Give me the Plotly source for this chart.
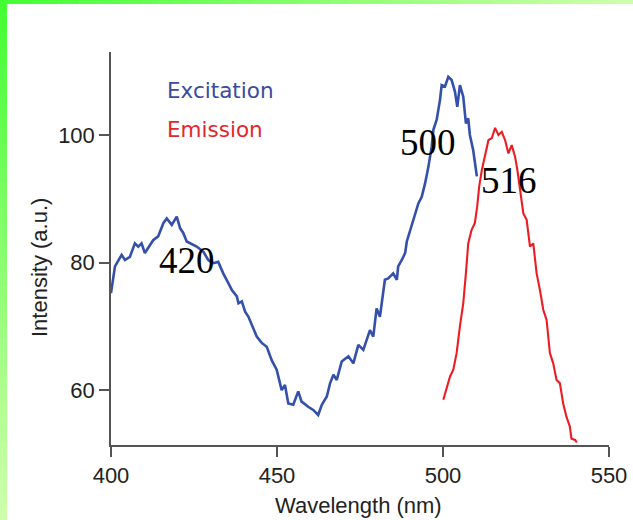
import plotly.graph_objects as go

# ---- data ----
exc_nm = [400.0, 401.2, 403.2, 404.2, 405.7, 407.2, 408.2, 409.2, 410.2, 411.7, 412.7, 414.2,
          415.8, 416.8, 418.3, 419.8, 420.8, 421.8, 422.8, 425.8, 427.8, 429.3, 430.8, 432.3,
          433.8, 435.3, 436.4, 437.9, 438.4, 439.4, 440.4, 441.4, 442.4, 443.9, 445.4, 446.9,
          448.4, 449.9, 451.4, 452.4, 453.4, 454.9, 456.4, 457.4, 459.4, 460.9, 462.4, 463.5,
          465.0, 466.0, 467.0, 468.0, 469.5, 471.5, 473.0, 474.5, 476.0, 478.0, 479.0, 480.0,
          481.0, 482.5, 483.5, 485.0, 486.1, 486.5, 487.6, 488.6, 489.1, 490.1, 490.6, 491.6,
          492.6, 493.6, 494.6, 495.6, 496.6, 497.1, 498.1, 499.1, 499.6, 500.6, 501.6, 502.6,
          503.6, 504.3, 505.1, 506.1, 506.9, 507.6, 508.1, 509.1, 510.2]
exc_int = [75.2, 79.4, 81.2, 80.4, 80.9, 83.0, 82.5, 83.0, 81.5, 82.8, 83.5, 84.1,
           86.2, 86.9, 85.9, 87.2, 85.4, 84.6, 83.3, 82.5, 81.7, 80.4, 79.9, 80.1,
           78.3, 76.8, 75.7, 74.7, 73.6, 73.9, 72.3, 71.5, 70.2, 68.4, 67.4, 66.8,
           64.7, 63.2, 60.0, 60.8, 57.9, 57.7, 59.8, 58.2, 57.4, 56.9, 56.1, 57.7,
           59.0, 61.1, 62.4, 61.6, 64.5, 65.3, 64.2, 67.1, 66.3, 69.4, 68.4, 72.8,
           71.5, 77.3, 77.5, 78.3, 77.3, 79.4, 80.4, 81.5, 83.3, 85.1, 85.6, 87.7,
           89.3, 90.3, 92.4, 95.0, 98.2, 100.8, 102.4, 105.5, 107.8, 107.6, 109.1, 108.6,
           106.8, 104.4, 107.8, 106.0, 101.8, 102.6, 100.0, 97.6, 93.5]

em_nm = [500.1, 501.1, 502.1, 503.1, 504.1, 505.1, 506.1, 506.9, 507.6, 508.6, 509.6, 510.3,
         510.9, 511.7, 512.7, 513.7, 514.7, 515.7, 516.7, 517.7, 518.7, 519.7, 520.7, 521.7,
         522.4, 523.2, 524.2, 525.2, 526.2, 527.2, 528.2, 529.2, 530.2, 531.2, 532.2, 533.2,
         534.2, 535.2, 536.2, 537.2, 538.2, 538.7, 539.8, 540.3]
em_int = [58.5, 60.3, 62.1, 63.2, 65.8, 70.0, 73.6, 78.3, 83.0, 85.1, 86.2, 88.8,
          91.9, 94.5, 97.1, 99.2, 99.5, 101.1, 100.0, 100.5, 99.2, 97.1, 98.4, 96.6,
          94.5, 91.4, 87.7, 86.7, 82.5, 83.0, 78.3, 75.7, 72.6, 71.0, 65.8, 64.2,
          61.6, 61.1, 57.9, 55.8, 54.3, 52.4, 52.2, 51.8]

x_ticks = [400, 450, 500, 550]
y_ticks = [60, 80, 100]
peak_labels = ["420", "500", "516"]
peak_x = [422.8, 495.4, 519.8]
peak_y = [80.3, 98.8, 92.8]
series_names = ["Excitation", "Emission"]

W, H = 633, 520
ML, MR, MT, MB = 111, 24, 52, 75
PW, PH = W - ML - MR, H - MT - MB

fig = go.Figure()
fig.add_trace(go.Scatter(x=exc_nm, y=exc_int, mode="lines", name=series_names[0],
                         line=dict(color="#3450aa", width=2.6), showlegend=False))
fig.add_trace(go.Scatter(x=em_nm, y=em_int, mode="lines", name=series_names[1],
                         line=dict(color="#ec1c24", width=2.1), showlegend=False))

def px2paper_x(px):
    return (px - ML) / PW

def px2paper_y(py):
    return (H - MB - py) / PH

# green gradient frame (top and left strips)
shapes = []
N = 40
c0 = (68, 255, 51)
c1 = (206, 255, 172)
for i in range(N):
    t = i / (N - 1)
    col = "rgb(%d,%d,%d)" % tuple(round(a + (b - a) * t) for a, b in zip(c0, c1))
    x0 = W * i / N
    x1 = W * (i + 1) / N + 0.5
    shapes.append(dict(type="rect", xref="paper", yref="paper",
                       x0=px2paper_x(x0), x1=px2paper_x(x1),
                       y0=px2paper_y(4), y1=px2paper_y(0),
                       fillcolor=col, line=dict(width=0), layer="above"))
    y0 = H * i / N
    y1 = H * (i + 1) / N + 0.5
    shapes.append(dict(type="rect", xref="paper", yref="paper",
                       x0=px2paper_x(0), x1=px2paper_x(7),
                       y0=px2paper_y(y1), y1=px2paper_y(y0),
                       fillcolor=col, line=dict(width=0), layer="above"))

sans = "Liberation Sans, Arial, sans-serif"
annotations = []
for lab, xx, yy in zip(peak_labels, peak_x, peak_y):
    annotations.append(dict(x=xx, y=yy, xref="x", yref="y", text=lab, showarrow=False,
                            font=dict(family="Liberation Serif, Times New Roman, serif",
                                      size=37, color="#000000"),
                            xanchor="center", yanchor="middle"))
annotations.append(dict(x=416.4, y=106.9, xref="x", yref="y", text=series_names[0],
                        showarrow=False, xanchor="left", yanchor="middle",
                        font=dict(family="DejaVu Sans, sans-serif", size=21.5,
                                  color="#3a4a9e")))
annotations.append(dict(x=416.4, y=100.9, xref="x", yref="y", text=series_names[1],
                        showarrow=False, xanchor="left", yanchor="middle",
                        font=dict(family="DejaVu Sans, sans-serif", size=21.5,
                                  color="#e3262c")))
# axis titles
annotations.append(dict(x=px2paper_x(358.5), y=px2paper_y(505), xref="paper", yref="paper",
                        text="Wavelength (nm)", showarrow=False, xanchor="center",
                        yanchor="middle", font=dict(family=sans, size=22, color="#222222")))
annotations.append(dict(x=px2paper_x(39), y=px2paper_y(268), xref="paper", yref="paper",
                        text="Intensity (a.u.)", showarrow=False, textangle=-90,
                        xanchor="center", yanchor="middle",
                        font=dict(family=sans, size=22, color="#222222")))

axis_font = dict(family=sans, size=22, color="#222222")

fig.update_layout(
    width=W, height=H,
    margin=dict(l=ML, r=MR, t=MT, b=MB),
    paper_bgcolor="white", plot_bgcolor="white",
    shapes=shapes, annotations=annotations,
    xaxis=dict(range=[400, 550], tickvals=x_ticks, ticktext=[str(v) for v in x_ticks],
               showgrid=False, zeroline=False, showline=True, linecolor="#555555",
               linewidth=1.5, ticks="outside", ticklen=10, tickwidth=1.5, tickcolor="#555555",
               tickfont=axis_font, automargin=False),
    yaxis=dict(range=[51.4, 113], tickvals=y_ticks, ticktext=[str(v) for v in y_ticks],
               showgrid=False, zeroline=False, showline=True, linecolor="#555555",
               linewidth=1.5, ticks="outside", ticklen=10, tickwidth=1.5, tickcolor="#555555",
               tickfont=axis_font, automargin=False),
)

fig.write_html("out.html", config={"displayModeBar": False},
               post_script="document.body.style.margin='0px';")
